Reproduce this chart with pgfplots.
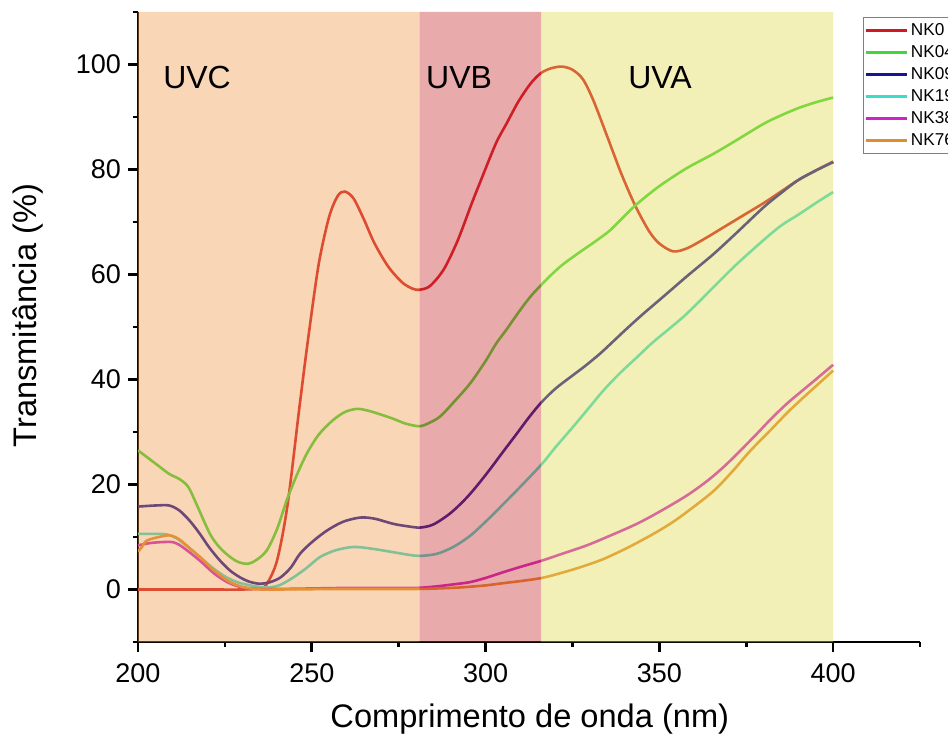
\documentclass[border=0pt]{standalone}
\usepackage{pgfplots}
\pgfplotsset{compat=1.18}
\usepackage{fontspec}
\setmainfont{Liberation Sans}
\definecolor{cNKa}{RGB}{210,25,35}
\definecolor{cNKb}{RGB}{65,215,55}
\definecolor{cNKc}{RGB}{25,20,150}
\definecolor{cNKd}{RGB}{60,220,205}
\definecolor{cNKe}{RGB}{205,35,200}
\definecolor{cNKf}{RGB}{225,140,45}
\definecolor{bandC}{RGB}{238,152,72}
\definecolor{bandB}{RGB}{198,42,42}
\definecolor{bandA}{RGB}{225,217,75}
\begin{document}
\begin{tikzpicture}
\useasboundingbox (0,0) rectangle (474pt,370pt);
\begin{axis}[
  at={(69pt,49pt)}, anchor=south west,
  scale only axis, width=391pt, height=315pt,
  xmin=200, xmax=425, ymin=-10, ymax=110,
  axis lines=left, axis line style={-, line width=1.3pt},
  tick align=outside,
  major tick length=5pt, minor tick length=2.5pt,
  every tick/.style={black, line width=1.3pt},
  xtick={200,250,300,350,400}, minor xtick={225,275,325,375,425},
  ytick={0,20,40,60,80,100}, minor ytick={-10,10,30,50,70,90,110},
  /pgf/number format/assume math mode=true,
  ticklabel style={font=\fontsize{13.5}{16}\selectfont},
  xticklabel style={yshift=-2.5pt},
  label style={font=\fontsize{16.3}{19}\selectfont},
  xlabel={Comprimento de onda (nm)},
  ylabel={Transmitância (\%)},
  xlabel style={at={(axis description cs:0.501,-0.1230)}, anchor=center},
  ylabel style={at={(axis description cs:-0.1407,0.518)}, anchor=center, rotate=0},
  clip=true,
  legend style={at={(axis description cs:0.927,0.9925)}, anchor=north west,
    draw=gray, line width=0.6pt, fill=white,
    font=\fontsize{8.6}{9}\selectfont, row sep=2pt, inner xsep=0.5pt, inner ysep=2pt,
    nodes={inner sep=1pt, text height=6pt, text depth=1pt}},
  legend cell align=left,
  legend image code/.code={\draw[#1, line width=1.4pt] (0cm,0cm) -- (0.73cm,0cm);},
  every axis plot/.append style={line width=1.3pt, smooth},
]
\addplot[cNKa] coordinates {
(200,0) (210,0) (220,0) (230,0) (235,0.2) (237,1) (240,5.5) (243,16) (246.5,35) (249,48) (252,62) (255,71) (257.5,75) (259.5,75.8) (262,74.5) (265,70.5) (268,66) (272,61.5) (276,58.5) (279,57.3) (281,57.1) (284,57.8) (288,61) (292,66.5) (296,73.5) (299,78.5) (303,85) (306,88.7) (309.5,93) (313,96.4) (316,98.4) (319,99.3) (322,99.6) (325,99) (328,97.2) (331,93.2) (335,86.3) (339,79.3) (343,73.2) (347,68.3) (350,65.9) (354,64.4) (358,65) (363,66.8) (368,68.8) (374,71.2) (380,73.6) (385,75.8) (390,78) (395,79.8) (400,81.5)};
\addlegendentry{NK0}
\addplot[cNKb] coordinates {
(200,26.5) (203,25) (206,23.5) (209,22) (212,21) (214.5,19.5) (217,16) (220.7,10.6) (223.5,8) (226.5,6.2) (229,5.2) (231.7,4.9) (234,5.6) (237,7.4) (240,11.5) (242.8,17) (245.5,21.5) (248.5,25.8) (252,29.5) (256,32.2) (259.5,33.8) (263,34.4) (266,34.1) (270,33.3) (273.5,32.5) (277,31.6) (281,31.1) (284,31.8) (287,33) (291,35.8) (295.5,39.2) (300,43.5) (303,46.8) (306,49.5) (309.5,52.8) (312.8,55.7) (316,58) (319,60) (322.4,62) (327,64.2) (332,66.5) (335.8,68.4) (339,70.5) (343,73.1) (347,75.3) (351,77.3) (358,80.3) (365.6,83) (372,85.5) (380,88.7) (385,90.3) (390,91.7) (395,92.8) (400,93.7)};
\addlegendentry{NK0475}
\addplot[cNKc] coordinates {
(200,15.8) (205,16) (209,16) (212,15) (215,13) (217.8,10.6) (220.5,8) (223.6,5.5) (226.5,3.6) (229.4,2.3) (232,1.5) (235,1.1) (238,1.4) (241,2.3) (244,4.2) (246.6,6.8) (250,9) (254.3,11.2) (259,12.9) (263.9,13.7) (268,13.5) (273.5,12.5) (278,12) (281.2,11.8) (285,12.4) (290,14.6) (295,17.8) (300,21.8) (305,26.2) (309,29.7) (312.5,32.8) (316,35.6) (320,38.2) (324.3,40.4) (328.5,42.5) (332.9,44.9) (336.8,47.3) (340,49.3) (345,52.3) (351,55.7) (358,59.7) (365.6,63.9) (372,67.8) (380,72.8) (385,75.5) (390,78) (395,79.8) (400,81.4)};
\addlegendentry{NK095}
\addplot[cNKd] coordinates {
(200,10.6) (204,10.6) (208.2,10.5) (211,9.8) (214,8.3) (217.8,6.2) (221.5,4.1) (225.5,2.3) (229,1.3) (232.2,0.8) (235,0.5) (238,0.4) (241,0.9) (244.7,2.3) (248.5,4.1) (252.4,6.2) (257,7.5) (262,8.1) (267,7.8) (273.5,7.1) (278,6.6) (281.2,6.4) (286,6.8) (290.7,8.1) (295.5,10.2) (300.3,13.1) (305,16.2) (309.9,19.5) (316.2,23.9) (320,27) (324.3,30.3) (329,34) (333.9,37.9) (338.5,41.1) (343.5,44.2) (348,47) (353.1,49.8) (358,52.6) (365.6,57.6) (372,61.8) (379.9,66.5) (385,69.3) (390,71.4) (395,73.6) (400,75.7)};
\addlegendentry{NK19}
\addplot[cNKe] coordinates {
(200,8.4) (203,8.8) (206,9) (210.2,9) (213,8) (217.8,5.5) (222,3) (226,1.3) (230,0.4) (235,0.1) (240,0.1) (250,0.2) (260,0.3) (270,0.3) (280,0.3) (286,0.6) (291,1) (295.5,1.4) (300,2.2) (305.1,3.3) (310,4.3) (316.2,5.5) (322,6.8) (329.1,8.4) (336,10.3) (343.5,12.5) (350,14.8) (357.9,17.9) (364,20.8) (369.4,23.9) (377.1,29) (382,32.4) (386.7,35.4) (391,37.8) (395,40) (400,42.8)};
\addlegendentry{NK38}
\addplot[cNKf] coordinates {
(200,7.2) (201,8) (202.5,9.3) (206,10) (209.2,10.3) (212,9.5) (215,7.8) (217.8,6.2) (222,3.6) (226,1.6) (230,0.5) (235,0) (240,0) (260,0.1) (280,0.1) (290,0.3) (295,0.5) (300.3,0.8) (305,1.2) (310,1.6) (316.2,2.2) (322,3.2) (328,4.4) (333.9,5.8) (341,8) (348.3,10.6) (354,12.9) (359.8,15.7) (366,19) (371.3,22.7) (376,26.3) (381.9,30.3) (387,33.8) (391.5,36.6) (396,39.3) (400,41.7)};
\addlegendentry{NK76}
% UV bands drawn over the curves, semi-transparent
\addplot[draw=none, fill=bandC, fill opacity=0.4, sharp plot, forget plot] coordinates {(200,-10) (200,110) (281,110) (281,-10) (200,-10)};
\addplot[draw=none, fill=bandB, fill opacity=0.4, sharp plot, forget plot] coordinates {(281,-10) (281,110) (316,110) (316,-10) (281,-10)};
\addplot[draw=none, fill=bandA, fill opacity=0.4, sharp plot, forget plot] coordinates {(316,-10) (316,110) (400,110) (400,-10) (316,-10)};
\node[font=\fontsize{16}{19}\selectfont] at (axis cs:217,97.5) {UVC};
\node[font=\fontsize{16}{19}\selectfont] at (axis cs:292.4,97.5) {UVB};
\node[font=\fontsize{16}{19}\selectfont] at (axis cs:350.2,97.5) {UVA};
\end{axis}
\end{tikzpicture}
\end{document}
